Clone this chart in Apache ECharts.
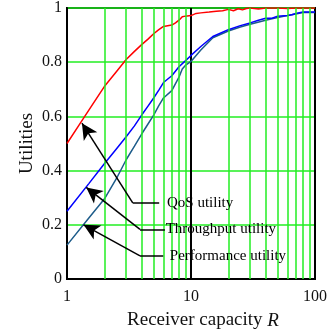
<!DOCTYPE html>
<html>
<head>
<meta charset="utf-8">
<script src="https://cdn.jsdelivr.net/npm/echarts@6/dist/echarts.min.js"></script>
<style>
  html, body { margin: 0; padding: 0; background: #fff; }
  #chart { width: 331px; height: 335px; }
</style>
</head>
<body>
<div id="chart"></div>
<script>
// capacity R (log scale) and the three utility curves
const qosX = [1, 1.25, 1.5, 2, 2.5, 3, 3.5, 4, 4.5, 5, 5.5, 6, 7, 7.5, 8, 8.5, 9, 10, 11, 12, 14, 16, 18, 20, 22, 24, 26, 28, 30, 35, 40, 50, 60, 70, 80, 100]
const qosY = [0.50, 0.568, 0.623, 0.71, 0.765, 0.81, 0.84, 0.865, 0.885, 0.905, 0.92, 0.932, 0.937, 0.945, 0.955, 0.968, 0.97, 0.972, 0.98, 0.982, 0.985, 0.988, 0.99, 0.995, 0.99, 0.997, 0.993, 0.998, 1.0, 0.996, 1.0, 1.0, 0.998, 1.0, 1.0, 1.0]

const thrX = [1, 1.5, 2, 2.5, 3, 3.5, 4, 4.5, 5, 5.5, 6, 7, 8, 9, 10, 12, 15, 20, 25, 30, 35, 40, 45, 50, 60, 65, 70, 80, 100]
const thrY = [0.25, 0.352, 0.425, 0.48, 0.525, 0.565, 0.605, 0.638, 0.668, 0.697, 0.725, 0.75, 0.783, 0.805, 0.825, 0.858, 0.895, 0.92, 0.935, 0.945, 0.955, 0.962, 0.962, 0.97, 0.972, 0.975, 0.98, 0.985, 0.985]

const perfX = [1, 1.5, 2, 2.5, 3, 3.5, 4, 4.5, 5, 5.5, 6, 7, 8, 8.5, 9, 10, 12, 15, 20, 25, 30, 40, 45, 50, 60, 70, 80, 100]
const perfY = [0.125, 0.225, 0.295, 0.37, 0.44, 0.49, 0.535, 0.572, 0.605, 0.64, 0.668, 0.695, 0.745, 0.775, 0.788, 0.803, 0.845, 0.89, 0.915, 0.93, 0.94, 0.955, 0.96, 0.965, 0.972, 0.978, 0.983, 0.983]

// minor log grid lines
const minorGrid = [2, 3, 4, 5, 6, 7, 8, 9, 20, 30, 40, 50, 60, 70, 80, 90]

// annotation: label, arrow tip, elbow, end of the short horizontal, text start
const noteLabels = ['QoS utility', 'Throughput utility', 'Performance utility']
const noteTips = [[1.32, 0.575], [1.43, 0.338], [1.36, 0.2]]
const noteElbows = [[3.39, 0.281], [3.88, 0.183], [3.88, 0.085]]
const noteEnds = [[5.54, 0.281], [6.16, 0.183], [5.97, 0.085]]
const noteTextX = [6.4, 6.25, 6.75]

const zip = (xs, ys) => xs.map((x, i) => [x, ys[i]])
const font = '"Liberation Serif", "Times New Roman", serif'

const chart = echarts.init(document.getElementById('chart'))

const arrowLines = []
noteTips.forEach((tip, i) => {
  arrowLines.push([{ coord: noteElbows[i], symbol: 'none' }, { coord: tip, symbol: 'arrow' }])
  arrowLines.push([{ coord: noteElbows[i], symbol: 'none' }, { coord: noteEnds[i], symbol: 'none' }])
})

chart.setOption({
  animation: false,
  textStyle: { fontFamily: font },
  grid: {
    left: 67, right: 16, top: 5, bottom: 53,
    show: true, borderColor: '#000', borderWidth: 2, backgroundColor: '#fff'
  },
  xAxis: {
    type: 'log',
    logBase: 10,
    min: 1,
    max: 100,
    axisLine: { lineStyle: { color: '#000', width: 2 } },
    axisTick: { show: false },
    axisLabel: { fontSize: 16, color: '#111', margin: 10, fontFamily: font },
    splitLine: { show: true, lineStyle: { color: '#000', width: 2 } },
    name: '{a|Receiver capacity }{b|R}',
    nameLocation: 'middle',
    nameGap: 32,
    nameTextStyle: {
      padding: [0, 0, 0, 24],
      rich: {
        a: { fontSize: 19, color: '#111', fontFamily: font },
        b: { fontSize: 19, color: '#111', fontFamily: font, fontStyle: 'italic' }
      }
    }
  },
  yAxis: {
    type: 'value',
    min: 0,
    max: 1,
    interval: 0.2,
    axisLine: { show: true, lineStyle: { color: '#000', width: 2 } },
    axisTick: { show: false },
    axisLabel: { fontSize: 16, color: '#111', margin: 5, fontFamily: font },
    splitLine: { show: true, lineStyle: { color: '#22ee22', width: 1.5 } },
    name: 'Utilities',
    nameLocation: 'middle',
    nameMoveOverlap: false,
    nameGap: 30,
    nameTextStyle: { fontSize: 19, color: '#111', fontFamily: font }
  },
  series: [
    {
      type: 'line',
      data: [],
      z: 1,
      silent: true,
      markLine: {
        silent: true,
        symbol: 'none',
        label: { show: false },
        lineStyle: { color: '#22ee22', width: 1.5, type: 'solid' },
        data: minorGrid.map(v => ({ xAxis: v }))
      }
    },
    {
      name: 'QoS utility',
      type: 'line',
      data: zip(qosX, qosY),
      showSymbol: false,
      z: 3,
      lineStyle: { color: '#ff0000', width: 1.5 }
    },
    {
      name: 'Performance utility',
      type: 'line',
      data: zip(perfX, perfY),
      showSymbol: false,
      z: 3,
      lineStyle: { color: '#1d5c8a', width: 1.5 }
    },
    {
      name: 'Throughput utility',
      type: 'line',
      data: zip(thrX, thrY),
      showSymbol: false,
      z: 4,
      lineStyle: { color: '#0000ff', width: 1.5 }
    },
    {
      type: 'line',
      data: [],
      z: 5,
      silent: true,
      markLine: {
        silent: true,
        symbolSize: [12, 16],
        label: { show: false },
        lineStyle: { color: '#000', width: 1.5, type: 'solid', opacity: 1 },
        itemStyle: { color: '#000' },
        data: arrowLines
      }
    },
    {
      type: 'scatter',
      symbolSize: 0,
      z: 6,
      silent: true,
      data: noteLabels.map((t, i) => [noteTextX[i], noteElbows[i][1], t]),
      label: {
        show: true,
        position: 'right',
        distance: 0,
        fontSize: 15,
        color: '#000',
        opacity: 1,
        textBorderWidth: 0,
        fontFamily: font,
        formatter: p => p.data[2]
      }
    }
  ]
})
</script>
</body>
</html>
